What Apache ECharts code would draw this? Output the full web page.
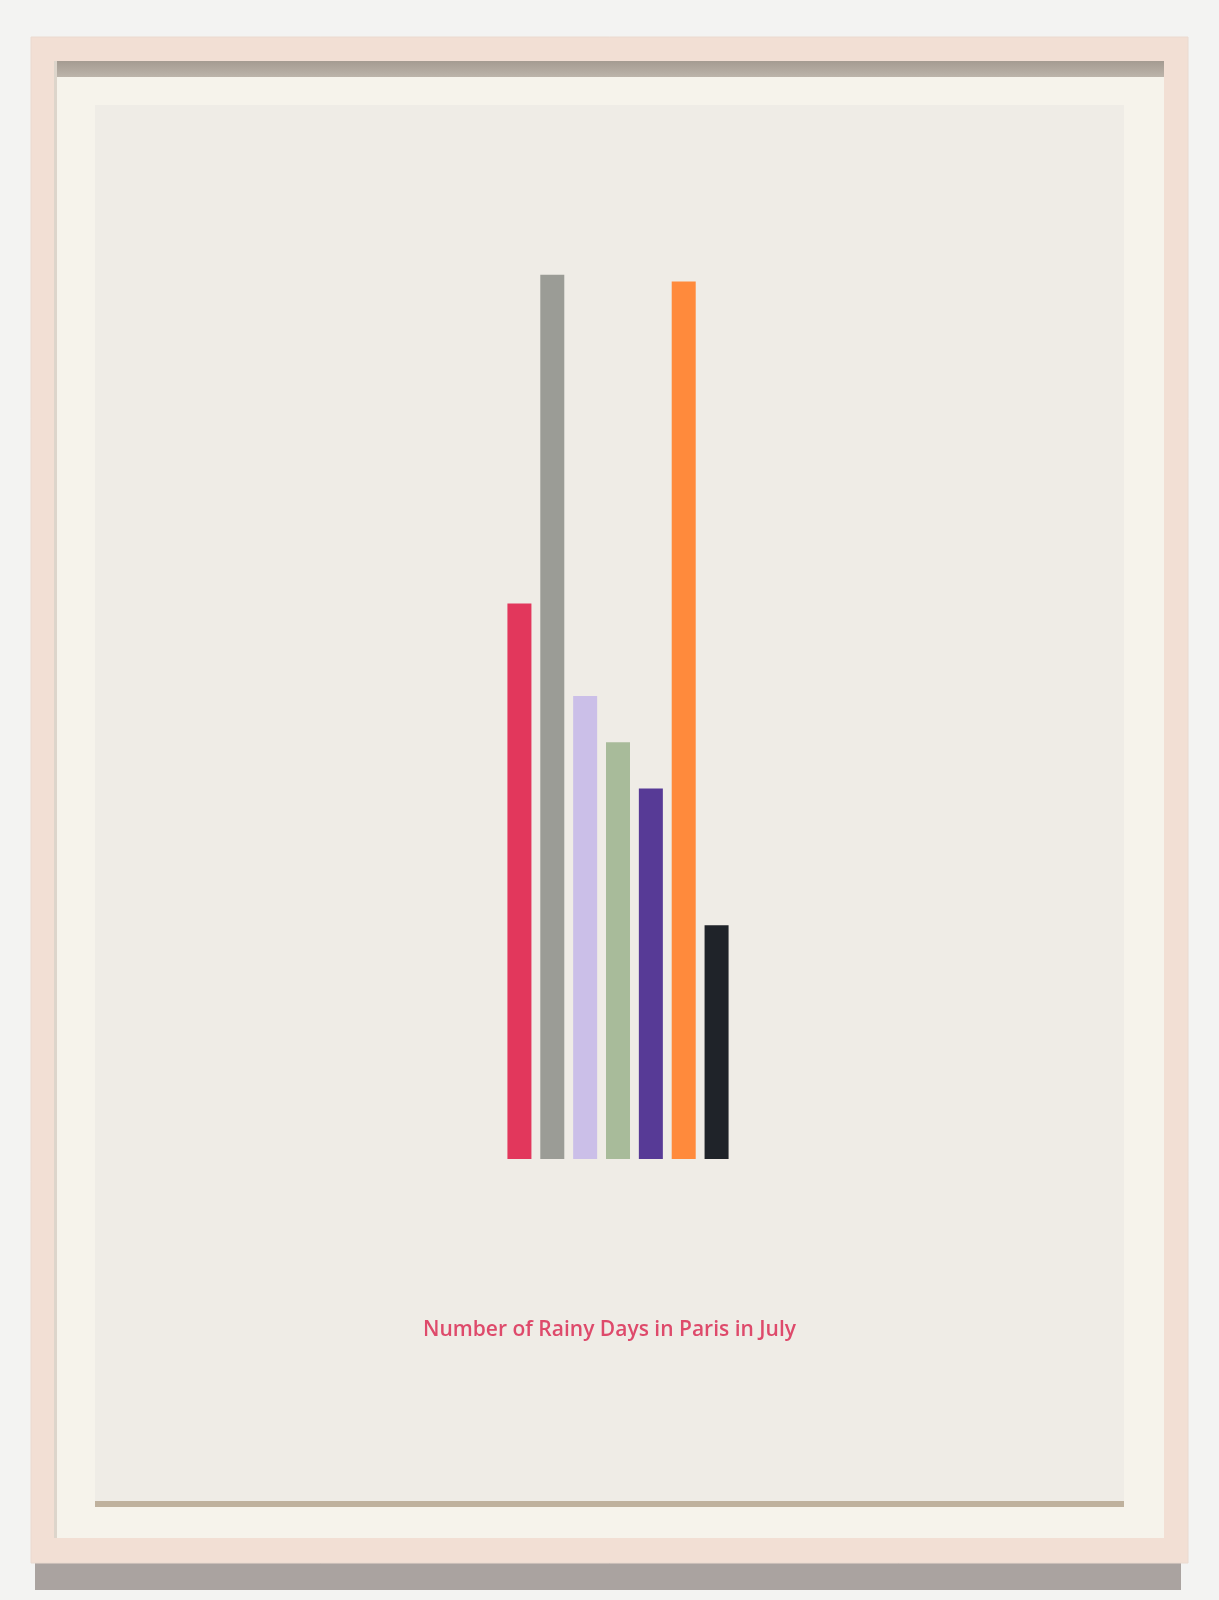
<!DOCTYPE html>
<html>
<head>
<meta charset="utf-8">
<script src="https://cdn.jsdelivr.net/npm/echarts@6/dist/echarts.min.js"></script>
<style>
html,body{margin:0;padding:0;background:#f3f3f2;}
#c{width:1219px;height:1600px;}
</style>
</head>
<body>
<div id="c"></div>
<script>
// Data
const categories = ['A', 'B', 'C', 'D', 'E', 'F', 'G'];
const rainyDays = [12, 19.1, 10, 9, 8, 18.95, 5.05];
const barColors = ['#e2375c', '#9b9c96', '#cbbfe8', '#a8bb9a', '#573a96', '#ff8a3c', '#1f2329'];
const titleText = 'Number of Rainy Days in Paris in July';

const chart = echarts.init(document.getElementById('c'), null, {renderer: 'canvas'});
chart.setOption({
  backgroundColor: '#f3f3f2',
  animation: false,
  graphic: [
    // under-frame shadow
    {type: 'rect', z: -10, shape: {x: 35, y: 1555, width: 1146, height: 35}, style: {fill: '#aaa3a0'}},
    // frame
    {type: 'rect', z: -9, shape: {x: 31, y: 37, width: 1157, height: 1526}, style: {fill: '#f2dfd4', stroke: '#eadad0', lineWidth: 1}},
    // mat
    {type: 'rect', z: -8, shape: {x: 54, y: 61, width: 1110, height: 1477}, style: {fill: '#f6f3eb'}},
    // top inner shadow
    {type: 'rect', z: -7, shape: {x: 54, y: 61, width: 1110, height: 16}, style: {fill: new echarts.graphic.LinearGradient(0, 0, 0, 1, [{offset: 0, color: '#a49b91'}, {offset: 1, color: '#bcb4aa'}])}},
    // left inner shadow
    {type: 'rect', z: -7, shape: {x: 54, y: 61, width: 3, height: 1477}, style: {fill: '#ddd5cb'}},
    // paper shadow line
    {type: 'rect', z: -6, shape: {x: 95, y: 1499, width: 1029, height: 8}, style: {fill: '#bfb19d'}},
    // paper
    {type: 'rect', z: -5, shape: {x: 95, y: 105, width: 1029, height: 1396}, style: {fill: '#efece6'}},
    // title
    {type: 'text', z: 5, left: 'center', top: 1320, style: {text: titleText, fill: '#de4a6b', font: '600 21px "Open Sans", sans-serif'}}
  ],
  grid: {left: 503, width: 230, top: 233, height: 926},
  xAxis: {type: 'category', data: categories, show: false},
  yAxis: {type: 'value', min: 0, max: 20, show: false},
  series: [{
    type: 'bar',
    barWidth: 24,
    data: rainyDays.map((v, i) => ({value: v, itemStyle: {color: barColors[i]}})),
    z: 3
  }]
});
</script>
</body>
</html>
